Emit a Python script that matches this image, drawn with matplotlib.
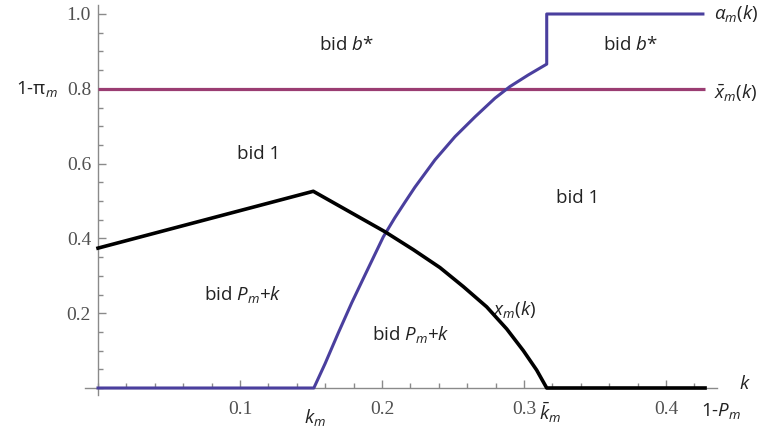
import matplotlib
matplotlib.use("Agg")
import matplotlib.pyplot as plt
from matplotlib.ticker import MultipleLocator, FixedLocator

# ---- data ----
alpha_k = [0.0, 0.152, 0.1599, 0.1693, 0.1787, 0.188, 0.2009, 0.209, 0.2162, 0.2232,
           0.2373, 0.2514, 0.2655, 0.2796, 0.2901, 0.303, 0.316, 0.316, 0.426]
alpha_y = [0.0, 0.0, 0.065, 0.148, 0.228, 0.302, 0.404, 0.455, 0.497, 0.537,
           0.610, 0.672, 0.725, 0.775, 0.806, 0.837, 0.866, 1.0, 1.0]

x_k = [0.0, 0.1516, 0.202, 0.222, 0.2408, 0.2573, 0.2737, 0.2878, 0.2995,
       0.3089, 0.316, 0.4275]
x_y = [0.374, 0.526, 0.418, 0.370, 0.322, 0.271, 0.217, 0.158, 0.100,
       0.048, 0.0, 0.0]

xbar_k = [0.0, 0.4275]
xbar_y = [0.8, 0.8]

xticks = [0.1, 0.2, 0.3, 0.4]
xtick_labels = ["0.1", "0.2", "0.3", "0.4"]
yticks = [0.2, 0.4, 0.6, 0.8, 1.0]
ytick_labels = ["0.2", "0.4", "0.6", "0.8", "1.0"]

plt.rcParams['mathtext.fontset'] = 'custom'
plt.rcParams['mathtext.rm'] = 'Open Sans'
plt.rcParams['mathtext.it'] = 'Open Sans:italic'
plt.rcParams['font.family'] = ['Open Sans', 'DejaVu Sans']

W, H = 762, 437
fig = plt.figure(figsize=(W / 100, H / 100), dpi=100)
xl, xr = -0.009, 0.436
yb, yt = -0.02, 1.024
left = (98 + xl * 1420) / W
right = (98 + xr * 1420) / W
bottom = (H - (388 - yb * 374)) / H
top = (H - (388 - yt * 374)) / H
ax = fig.add_axes([left, bottom, right - left, top - bottom])
ax.set_xlim(xl, xr)
ax.set_ylim(yb, yt)

ax.spines['right'].set_visible(False)
ax.spines['top'].set_visible(False)
ax.spines['left'].set_position(('data', 0))
ax.spines['bottom'].set_position(('data', 0))
for s in ('left', 'bottom'):
    ax.spines[s].set_color('#8a8a8a')
    ax.spines[s].set_linewidth(1.0)

ax.xaxis.set_major_locator(FixedLocator(xticks))
ax.xaxis.set_minor_locator(MultipleLocator(0.02))
ax.yaxis.set_major_locator(FixedLocator(yticks))
ax.yaxis.set_minor_locator(MultipleLocator(0.05))
ax.set_xticklabels(xtick_labels, family='Liberation Serif', fontsize=14, color='#505050')
ax.set_yticklabels(ytick_labels, family='Liberation Serif', fontsize=14, color='#505050')
ax.tick_params(axis='both', which='major', direction='in', length=6, width=1, color='#8a8a8a')
ax.tick_params(axis='both', which='minor', direction='in', length=3.5, width=1, color='#8a8a8a')
ax.tick_params(axis='x', which='major', pad=9)
ax.tick_params(axis='y', which='major', pad=5)

ax.plot(xbar_k, xbar_y, color='#9a3d72', lw=2.3, solid_capstyle='butt', zorder=3)
ax.plot(alpha_k, alpha_y, color='#4a3f9e', lw=2.2, solid_joinstyle='round', zorder=4)
ax.plot(x_k, x_y, color='black', lw=2.6, solid_joinstyle='round', zorder=5)

tc = '#222222'
fs = 13.5
kw = dict(color=tc, fontsize=fs, ha='center', va='center')
ax.text(0.175, 0.917, 'bid $b$*', **kw)
ax.text(0.3746, 0.917, 'bid $b$*', **kw)
ax.text(0.113, 0.626, 'bid 1', **kw)
ax.text(0.338, 0.508, 'bid 1', **kw)
ax.text(0.102, 0.249, 'bid $P_m$+$k$', **kw)
ax.text(0.220, 0.142, 'bid $P_m$+$k$', **kw)
ax.text(0.2935, 0.209, '$x_m(k)$', **kw)

ax.text(0.4335, 1.0, r'$\alpha_m(k)$', color=tc, fontsize=fs, ha='left', va='center', clip_on=False)
ax.text(0.4335, 0.79, r'$\bar{x}_m(k)$', color=tc, fontsize=fs, ha='left', va='center', clip_on=False)
ax.text(-0.043, 0.8, '1-π$_m$', color=tc, fontsize=fs, ha='center', va='center', clip_on=False)
ax.text(0.4556, 0.01, '$k$', color=tc, fontsize=fs, ha='center', va='center', clip_on=False)
ax.text(0.4385, -0.062, '1-$P_m$', color=tc, fontsize=fs, ha='center', va='center', clip_on=False)
ax.text(0.153, -0.078, '$k_m$', color=tc, fontsize=fs, ha='center', va='center', clip_on=False)
ax.text(0.318, -0.067, r'$\bar{k}_m$', color=tc, fontsize=fs, ha='center', va='center', clip_on=False)

fig.savefig('out.png', dpi=100)
